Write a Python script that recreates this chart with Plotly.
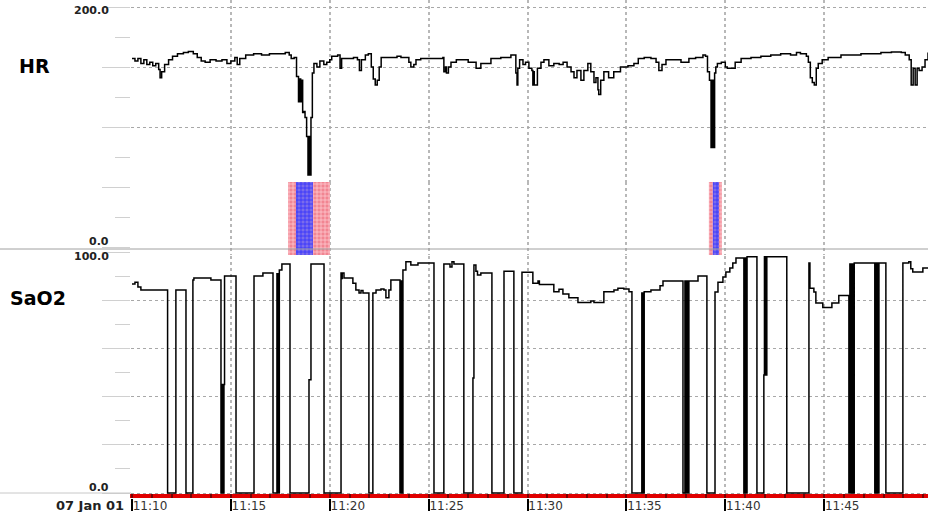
import plotly.graph_objects as go

# ---------------- data (minutes after 11:10) ----------------
hr_points = [
    (0.0, 157), (0.15, 155), (0.3, 157), (0.45, 153), (0.6, 156), (0.75, 152), (0.9, 154),
    (1.05, 151), (1.2, 153), (1.35, 148), (1.42, 141), (1.5, 146), (1.65, 152), (1.85, 156),
    (2.05, 159), (2.3, 161), (2.6, 162), (2.85, 163), (3.1, 161), (3.3, 158), (3.5, 155),
    (3.7, 154), (3.95, 156), (4.25, 155), (4.55, 156), (4.8, 153), (5.0, 155), (5.2, 158),
    (5.32, 152), (5.45, 157), (5.75, 160), (6.15, 161), (6.55, 160), (6.95, 161), (7.35, 161),
    (7.75, 162), (7.95, 160), (8.05, 157), (8.2, 158), (8.32, 142), (8.42, 121), (8.48, 140),
    (8.53, 121), (8.58, 139), (8.63, 112), (8.68, 113), (8.75, 108), (8.83, 92), (8.9, 60),
    (8.95, 92), (9.0, 60), (9.05, 108), (9.12, 145), (9.2, 153), (9.35, 150), (9.5, 155),
    (9.7, 152), (9.85, 154), (10.0, 156), (10.1, 159), (10.4, 160), (10.52, 149), (10.6, 157),
    (10.9, 157), (11.2, 158), (11.4, 156), (11.5, 147), (11.6, 156), (11.8, 160), (11.95, 161),
    (12.1, 150), (12.2, 140), (12.3, 135), (12.4, 139), (12.5, 150), (12.6, 158), (13.0, 158),
    (13.4, 159), (13.6, 158), (14.0, 154), (14.1, 150), (14.25, 152), (14.36, 156), (14.6, 157),
    (15.2, 157), (15.72, 158), (15.77, 146), (15.85, 150), (15.9, 145), (16.0, 150), (16.13, 154),
    (16.4, 156), (17.0, 154), (17.4, 149), (17.64, 153), (18.15, 157), (18.65, 158), (19.16, 160),
    (19.41, 145), (19.47, 135), (19.51, 149), (19.6, 156), (19.77, 152), (19.9, 154), (20.07, 149),
    (20.22, 147), (20.27, 135), (20.3, 146), (20.34, 135), (20.5, 149), (20.68, 154), (20.83, 156),
    (21.08, 151), (21.33, 153), (21.6, 152), (21.8, 154), (22.0, 150), (22.2, 146), (22.35, 141),
    (22.5, 147), (22.7, 139), (22.85, 147), (23.05, 153), (23.2, 146), (23.36, 137), (23.46, 141),
    (23.56, 131), (23.6, 127), (23.7, 139), (23.86, 146), (24.1, 141), (24.36, 146), (24.7, 150),
    (25.08, 151), (25.38, 153), (25.6, 157), (25.9, 158), (26.24, 157), (26.5, 154), (26.64, 147),
    (26.8, 152), (27.0, 156), (27.35, 156), (27.76, 154), (28.16, 157), (28.5, 158), (28.87, 160),
    (29.0, 159), (29.1, 146), (29.2, 139), (29.28, 83), (29.34, 139), (29.4, 83), (29.46, 145),
    (29.52, 150), (29.6, 153), (29.8, 154), (30.0, 150), (30.1, 149), (30.4, 149), (30.5, 154),
    (30.8, 157), (31.3, 158), (31.8, 159), (32.3, 160), (32.8, 161), (33.3, 160), (33.6, 162),
    (33.8, 161), (34.1, 159), (34.2, 154), (34.3, 141), (34.4, 137), (34.5, 135), (34.6, 149),
    (34.7, 153), (34.9, 156), (35.2, 158), (35.85, 160), (36.35, 160), (36.86, 161), (37.36, 161),
    (37.87, 162), (38.4, 162.5), (38.9, 162), (39.1, 160), (39.3, 156), (39.4, 135), (39.5, 149),
    (39.6, 135), (39.7, 149), (39.8, 147), (39.95, 150), (40.1, 156), (40.25, 162),
]

sao2_points = [
    (0.0, 86.7), (0.15, 87.5), (0.3, 85.5), (0.45, 84.2), (1.8, 0), (2.22, 84.2), (2.73, 0),
    (3.08, 88.4), (3.13, 89.2), (3.99, 88.4), (4.5, 0), (4.53, 45), (4.56, 0), (4.59, 45),
    (4.62, 0), (4.65, 45), (4.68, 90), (5.26, 0), (6.17, 90), (6.62, 91.3), (7.13, 0),
    (7.33, 91), (7.36, 0), (7.39, 91), (7.42, 0), (7.45, 92.5), (7.58, 95), (7.99, 0),
    (8.95, 47), (9.05, 95), (9.71, 0), (10.57, 91.3), (10.6, 89), (10.63, 91.3), (10.72, 89.2),
    (11.17, 87), (11.32, 84.2), (11.48, 83), (11.58, 84), (11.68, 83), (11.98, 0), (12.18, 83),
    (12.34, 84.2), (12.59, 84.6), (12.74, 84.2), (12.84, 81), (12.99, 84.2), (13.09, 88.4),
    (13.55, 0), (13.58, 88), (13.61, 0), (13.64, 88), (13.67, 0), (13.7, 92.5), (13.85, 96),
    (14.1, 94.6), (14.46, 95.4), (15.27, 0), (15.77, 95), (16.08, 93.8), (16.18, 96), (16.28, 95),
    (16.78, 0), (17.24, 47.7), (17.29, 94.6), (17.39, 92), (17.47, 90.5), (17.64, 91.3),
    (18.2, 0), (18.81, 92), (19.31, 0), (19.72, 91.6), (20.27, 87), (20.53, 88), (20.6, 86.5),
    (21.33, 83.5), (21.59, 84.5), (21.79, 82.6), (22.09, 81), (22.55, 79), (23.2, 79.7),
    (23.36, 79), (23.86, 83.5), (24.37, 84.2), (24.57, 85), (24.87, 84.6), (25.13, 83.5),
    (25.28, 0), (25.78, 83), (25.81, 0), (25.84, 83), (25.87, 0), (25.9, 83.5), (26.24, 84.2),
    (26.7, 86), (26.85, 88), (27.86, 0), (27.96, 88), (27.99, 0), (28.02, 88), (28.05, 0),
    (28.08, 88), (28.11, 0), (28.16, 88), (28.62, 90), (29.07, 0), (29.48, 83.4), (29.63, 87.5),
    (29.88, 89.6), (30.03, 91.7), (30.23, 93.4), (30.38, 95.4), (30.54, 97.5), (30.94, 0),
    (30.97, 97.5), (31.0, 0), (31.04, 97.5), (31.07, 0), (31.1, 98), (31.6, 0), (31.95, 49),
    (31.98, 98), (32.01, 49), (32.04, 98), (32.07, 49), (32.1, 98), (33.11, 0), (34.23, 95.4),
    (34.28, 85), (34.48, 83.4), (34.58, 78.8), (34.93, 77), (35.39, 78.8), (35.74, 82),
    (36.25, 0), (36.3, 95), (36.33, 0), (36.37, 95), (36.4, 0), (36.45, 95), (36.48, 0),
    (36.52, 95.4), (37.56, 0), (37.6, 95.4), (37.63, 0), (37.67, 95.4), (37.7, 0), (37.77, 95.4),
    (38.12, 0), (38.98, 95.4), (39.28, 96), (39.38, 93), (39.48, 91.7), (39.99, 93.4), (40.3, 93.4),
]

hr_minutes = [p[0] for p in hr_points]
hr_values = [p[1] for p in hr_points]
sao2_minutes = [p[0] for p in sao2_points]
sao2_values = [p[1] for p in sao2_points]

# event markers (minutes after 11:10)
event_outer_start = [7.89, 29.17]
event_outer_end = [10.01, 29.83]
event_inner_start = [8.29, 29.37]
event_inner_end = [9.15, 29.68]

tick_minutes = [0, 5, 10, 15, 20, 25, 30, 35]
tick_labels = ["11:10", "11:15", "11:20", "11:25", "11:30", "11:35", "11:40", "11:45"]
date_label = "07 Jan 01"
hr_scale_labels = [0.0, 200.0]
sao2_scale_labels = [0.0, 100.0]

# ---------------- geometry ----------------
W, H = 928, 512
ML, MB = 131, 14
PW, PH = W - ML, H - MB  # 797 x 498


def py(pix):  # pixel row -> paper y
    return 1 - pix / PH


def px(pix):  # pixel col -> paper x
    return (pix - ML) / PW


fig = go.Figure()


def centers(s, e):
    return [(a + b) / 2 for a, b in zip(s, e)]


def widths(s, e):
    return [b - a for a, b in zip(s, e)]


fig.add_trace(go.Bar(
    x=centers(event_outer_start, event_outer_end), width=widths(event_outer_start, event_outer_end),
    y=[1] * len(event_outer_start), base=0, xaxis="x2", yaxis="y3",
    marker=dict(color="#f28592", line=dict(width=0),
                pattern=dict(shape="+", fgcolor="#ffd4da", bgcolor="#f28592", size=4,
                             solidity=0.3)),
    hoverinfo="skip"))
fig.add_trace(go.Bar(
    x=centers(event_inner_start, event_inner_end), width=widths(event_inner_start, event_inner_end),
    y=[1] * len(event_inner_start), base=0, xaxis="x2", yaxis="y3",
    marker=dict(color="#6c5ce8", line=dict(width=0),
                pattern=dict(shape="+", fgcolor="#2f2fff", bgcolor="#7a6cec", size=4,
                             solidity=0.35)),
    hoverinfo="skip"))

fig.add_trace(go.Scatter(x=hr_minutes, y=hr_values, xaxis="x2", yaxis="y2", mode="lines",
                         line=dict(color="black", width=1.5, shape="hv"), hoverinfo="skip"))
fig.add_trace(go.Scatter(x=sao2_minutes, y=sao2_values, xaxis="x", yaxis="y", mode="lines",
                         line=dict(color="black", width=1.5, shape="hv"), hoverinfo="skip"))

xr = [-0.05, 40.25]
grid_x = dict(showgrid=True, gridcolor="#b8b8b8", griddash="dot", gridwidth=1.5)
grid_y = dict(showgrid=True, gridcolor="#a8a8a8", griddash="3px,3px", gridwidth=1)

fig.update_layout(
    template="none",
    width=W, height=H,
    margin=dict(l=ML, r=0, t=0, b=MB, pad=0),
    paper_bgcolor="white", plot_bgcolor="white",
    showlegend=False, barmode="overlay",
    xaxis=dict(range=xr, anchor="y", automargin=False, zeroline=False, showline=False,
               tickmode="array", tickvals=tick_minutes, ticktext=tick_labels,
               ticks="outside", ticklen=12, tickwidth=1.5, tickcolor="black",
               ticklabelposition="outside right", ticklabelstandoff=-3,
               tickfont=dict(family="DejaVu Sans", size=12, color="#333333"),
               minor=dict(ticks="inside", ticklen=4, tickcolor="#7a0000", tickmode="linear",
                          tick0=0, dtick=1, showgrid=False),
               **grid_x),
    xaxis2=dict(range=xr, anchor="y2", matches="x", automargin=False, zeroline=False,
                showline=False, showticklabels=False, ticks="",
                tickmode="array", tickvals=tick_minutes, **grid_x),
    yaxis=dict(domain=[0, py(250)], range=[-2.07, 100.83], anchor="x", automargin=False,
               zeroline=False, showline=False, showticklabels=False,
               tickmode="linear", tick0=0, dtick=20, ticks="outside", ticklen=28,
               tickcolor="#d0d0d0",
               minor=dict(ticks="outside", ticklen=15, tickcolor="#d0d0d0", tickmode="linear",
                          tick0=0, dtick=10, showgrid=False),
               **grid_y),
    yaxis2=dict(domain=[py(250), 1], range=[-2.5, 205.83], anchor="x2", automargin=False,
                zeroline=False, showline=False, showticklabels=False,
                tickmode="linear", tick0=0, dtick=50, ticks="outside", ticklen=28,
                tickcolor="#d0d0d0",
                minor=dict(ticks="outside", ticklen=15, tickcolor="#d0d0d0", tickmode="linear",
                           tick0=0, dtick=25, showgrid=False),
                **grid_y),
    yaxis3=dict(domain=[py(255), py(182)], range=[0, 1], anchor="x2", visible=False,
                showgrid=False, zeroline=False),
)

# panel separators and the red time band
fig.add_shape(type="line", xref="paper", yref="paper", x0=px(0), x1=1, y0=py(249), y1=py(249),
              line=dict(color="#a0a0a0", width=1))
fig.add_shape(type="line", xref="paper", yref="paper", x0=px(0), x1=0, y0=py(493), y1=py(493),
              line=dict(color="#c8c8c8", width=1))
fig.add_shape(type="rect", xref="paper", yref="paper", x0=px(130), x1=1, y0=0, y1=py(494),
              fillcolor="#e00000", line=dict(width=0), layer="below")

label_font = dict(family="DejaVu Sans", size=11, color="#222222", weight="bold")
for v, shift in zip(hr_scale_labels, [6, -3]):
    fig.add_annotation(xref="paper", yref="y2", x=px(111), y=v, yshift=shift, text=f"{v:.1f}",
                       showarrow=False, xanchor="right", yanchor="middle", font=label_font)
for v, shift in zip(sao2_scale_labels, [6, -4]):
    fig.add_annotation(xref="paper", yref="y", x=px(111), y=v, yshift=shift, text=f"{v:.1f}",
                       showarrow=False, xanchor="right", yanchor="middle", font=label_font)

title_font = dict(family="DejaVu Sans", size=19, color="black", weight="bold")
fig.add_annotation(xref="paper", yref="paper", x=px(17), y=py(66), text="HR", showarrow=False,
                   xanchor="left", yanchor="middle", font=title_font)
fig.add_annotation(xref="paper", yref="paper", x=px(8), y=py(298), text="SaO2", showarrow=False,
                   xanchor="left", yanchor="middle", font=title_font)
fig.add_annotation(xref="paper", yref="paper", x=px(126), y=py(505), text=date_label,
                   showarrow=False, xanchor="right", yanchor="middle",
                   font=dict(family="DejaVu Sans", size=13, color="#222222", weight="bold"))

fig.write_html("out.html", config={"displayModeBar": False},
               post_script="document.body.style.margin='0px';")
